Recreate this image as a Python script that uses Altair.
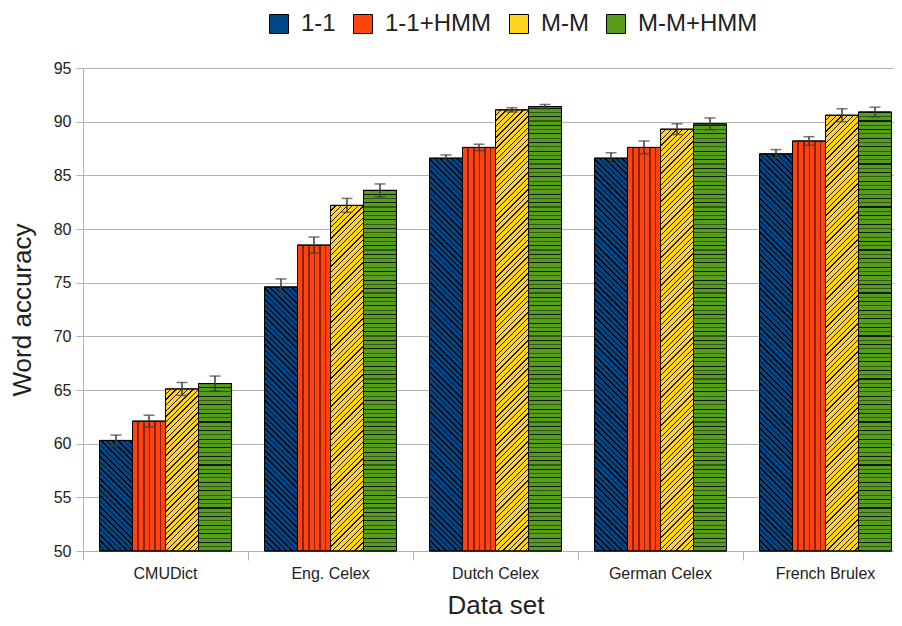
import altair as alt
import pandas as pd

categories = ["CMUDict", "Eng. Celex", "Dutch Celex", "German Celex", "French Brulex"]
series = ["1-1", "1-1+HMM", "M-M", "M-M+HMM"]
colors = ["#004586", "#ff420e", "#ffd320", "#579d1c"]

acc_11 = [60.3, 74.6, 86.6, 86.6, 87.0]
acc_11hmm = [62.1, 78.5, 87.6, 87.6, 88.2]
acc_mm = [65.1, 82.2, 91.1, 89.3, 90.6]
acc_mmhmm = [65.6, 83.6, 91.4, 89.8, 90.9]

err_11 = [0.5, 0.75, 0.3, 0.5, 0.4]
err_11hmm = [0.55, 0.75, 0.3, 0.6, 0.4]
err_mm = [0.6, 0.65, 0.2, 0.5, 0.6]
err_mmhmm = [0.7, 0.6, 0.2, 0.55, 0.45]

values = [acc_11, acc_11hmm, acc_mm, acc_mmhmm]
errors = [err_11, err_11hmm, err_mm, err_mmhmm]

rows = []
for s, vals, errs in zip(series, values, errors):
    for c, v, e in zip(categories, vals, errs):
        rows.append({"dataset": c, "series": s, "acc": v, "lo": v - e, "hi": v + e})
df = pd.DataFrame(rows)

FONT = "Liberation Sans"
Y_MIN, Y_MAX = 50, 95
PLOT_H = 483
BAR_W = 33.0
PX_PER_UNIT = PLOT_H / (Y_MAX - Y_MIN)
CLEAR = "rgba(0,0,0,0)"


def stripe_stops(centers, half, color_fn):
    stops = [{"offset": 0.0, "color": CLEAR}]
    for i, c in enumerate(centers):
        a, b = c - half, c + half
        if b <= 0 or a >= 1:
            continue
        a, b = max(a, 0.0), min(b, 1.0)
        col = color_fn(i)
        stops += [
            {"offset": round(a, 5), "color": CLEAR},
            {"offset": round(a, 5), "color": col},
            {"offset": round(b, 5), "color": col},
            {"offset": round(b, 5), "color": CLEAR},
        ]
    stops.append({"offset": 1.0, "color": CLEAR})
    return stops


def hatch(series_name, value):
    h = (value - Y_MIN) * PX_PER_UNIT
    r = h / BAR_W
    if series_name == "1-1":  # "\" diagonals
        d, lw = 5.6, 1.5
        norm = BAR_W * (1 + r * r)
        n = int((BAR_W + h) / d) + 2
        centers = [(k * d) / norm for k in range(1, n)]
        return {"gradient": "linear", "x1": 0, "y1": 1, "x2": 1, "y2": 1 - r,
                "stops": stripe_stops(centers, lw / 2 / norm, lambda i: "#000000")}
    if series_name == "M-M":  # "/" diagonals
        d, lw = 5.6, 1.3
        norm = BAR_W * (1 + r * r)
        n = int((BAR_W + h) / d) + 2
        centers = [(k * d) / norm for k in range(1, n)]
        return {"gradient": "linear", "x1": 0, "y1": 0, "x2": 1, "y2": r,
                "stops": stripe_stops(centers, lw / 2 / norm, lambda i: "#1a1400")}
    if series_name == "1-1+HMM":  # vertical lines
        d, lw = 5.6, 1.6
        centers = [(k * d) / BAR_W for k in range(1, 6)]
        return {"gradient": "linear", "x1": 0, "y1": 0, "x2": 1, "y2": 0,
                "stops": stripe_stops(centers, lw / 2 / BAR_W, lambda i: "#8a2306")}
    # horizontal lines
    d, lw = 4.3, 1.1
    n = int(h / d) + 1
    centers = sorted(1 - (k * d) / h for k in range(1, n))
    return {"gradient": "linear", "x1": 0, "y1": 0, "x2": 0, "y2": 1,
            "stops": stripe_stops(centers, lw / 2 / h,
                                  lambda i: "#111a08" if i % 2 == 0 else "#2f5a12")}


x_enc = alt.X(
    "dataset:N",
    sort=categories,
    title="Data set",
    scale=alt.Scale(range=[0, 825], paddingInner=0.2, paddingOuter=0.1),
    axis=alt.Axis(
        bandPosition=-0.125,
        labelAngle=0,
        tickSize=9,
        labelPadding=5,
        titlePadding=11,
        domainColor="#b3b3b3",
        tickColor="#b3b3b3",
        labelFont=FONT,
        labelFontSize=16,
        labelColor="#222222",
        titleFont=FONT,
        titleFontSize=26,
        titleFontWeight="normal",
        titleColor="#222222",
        grid=False,
    ),
)
x_plain = alt.X("dataset:N", sort=categories)
xoff = alt.XOffset("series:N", sort=series)
y_scale = alt.Scale(domain=[Y_MIN, Y_MAX], nice=False, zero=False)

bars = alt.Chart(df).mark_bar(stroke="black", strokeWidth=1).encode(
    x=x_enc,
    xOffset=xoff,
    y=alt.Y(
        "acc:Q",
        scale=y_scale,
        title="Word accuracy",
        axis=alt.Axis(
            values=[50, 55, 60, 65, 70, 75, 80, 85, 90, 95],
            tickSize=7,
            labelPadding=5,
            titlePadding=18,
            domainColor="#b3b3b3",
            tickColor="#b3b3b3",
            gridColor="#b3b3b3",
            labelFont=FONT,
            labelFontSize=16,
            labelColor="#222222",
            titleFont=FONT,
            titleFontSize=26,
            titleFontWeight="normal",
            titleColor="#222222",
        ),
    ),
    y2=alt.datum(Y_MIN),
    fill=alt.Fill(
        "series:N",
        sort=series,
        scale=alt.Scale(domain=series, range=colors),
        legend=alt.Legend(
            title=None,
            orient="none",
            direction="horizontal",
            gridAlign="none",
            legendX=184,
            legendY=-56,
            symbolType="square",
            symbolSize=361,
            symbolStrokeColor="black",
            symbolStrokeWidth=1,
            symbolOpacity=1,
            labelFont=FONT,
            labelFontSize=24,
            labelColor="#222222",
            labelOffset=10,
            columnPadding=15,
        ),
    ),
)

hatch_layers = []
for s, vals in zip(series, values):
    for c, v in zip(categories, vals):
        layer = (
            alt.Chart(df)
            .transform_filter((alt.datum.series == s) & (alt.datum.dataset == c))
            .mark_bar(fill=hatch(s, v), stroke="black", strokeWidth=1)
            .encode(x=x_plain, xOffset=xoff, y=alt.Y("acc:Q", scale=y_scale), y2=alt.datum(Y_MIN))
        )
        hatch_layers.append(layer)

err_color = "#3a3a3a"
rules = alt.Chart(df).mark_rule(color=err_color, strokeWidth=1.5).encode(
    x=x_plain, xOffset=xoff, y=alt.Y("lo:Q", scale=y_scale), y2="hi:Q"
)
caps_hi = alt.Chart(df).mark_tick(color=err_color, thickness=1.5, size=11, orient="horizontal").encode(
    x=x_plain, xOffset=xoff, y=alt.Y("hi:Q", scale=y_scale)
)
caps_lo = alt.Chart(df).mark_tick(color=err_color, thickness=1.5, size=11, orient="horizontal").encode(
    x=x_plain, xOffset=xoff, y=alt.Y("lo:Q", scale=y_scale)
)

chart = (
    alt.layer(bars, *hatch_layers, rules, caps_hi, caps_lo)
    .properties(
        width=811,
        height=PLOT_H,
        autosize=alt.AutoSizeParams(type="none"),
        padding={"left": 75, "top": 60, "right": 0, "bottom": 67},
    )
    .configure_view(stroke=None)
)

chart.save("out.html", embed_options={"renderer": "svg", "actions": False})
